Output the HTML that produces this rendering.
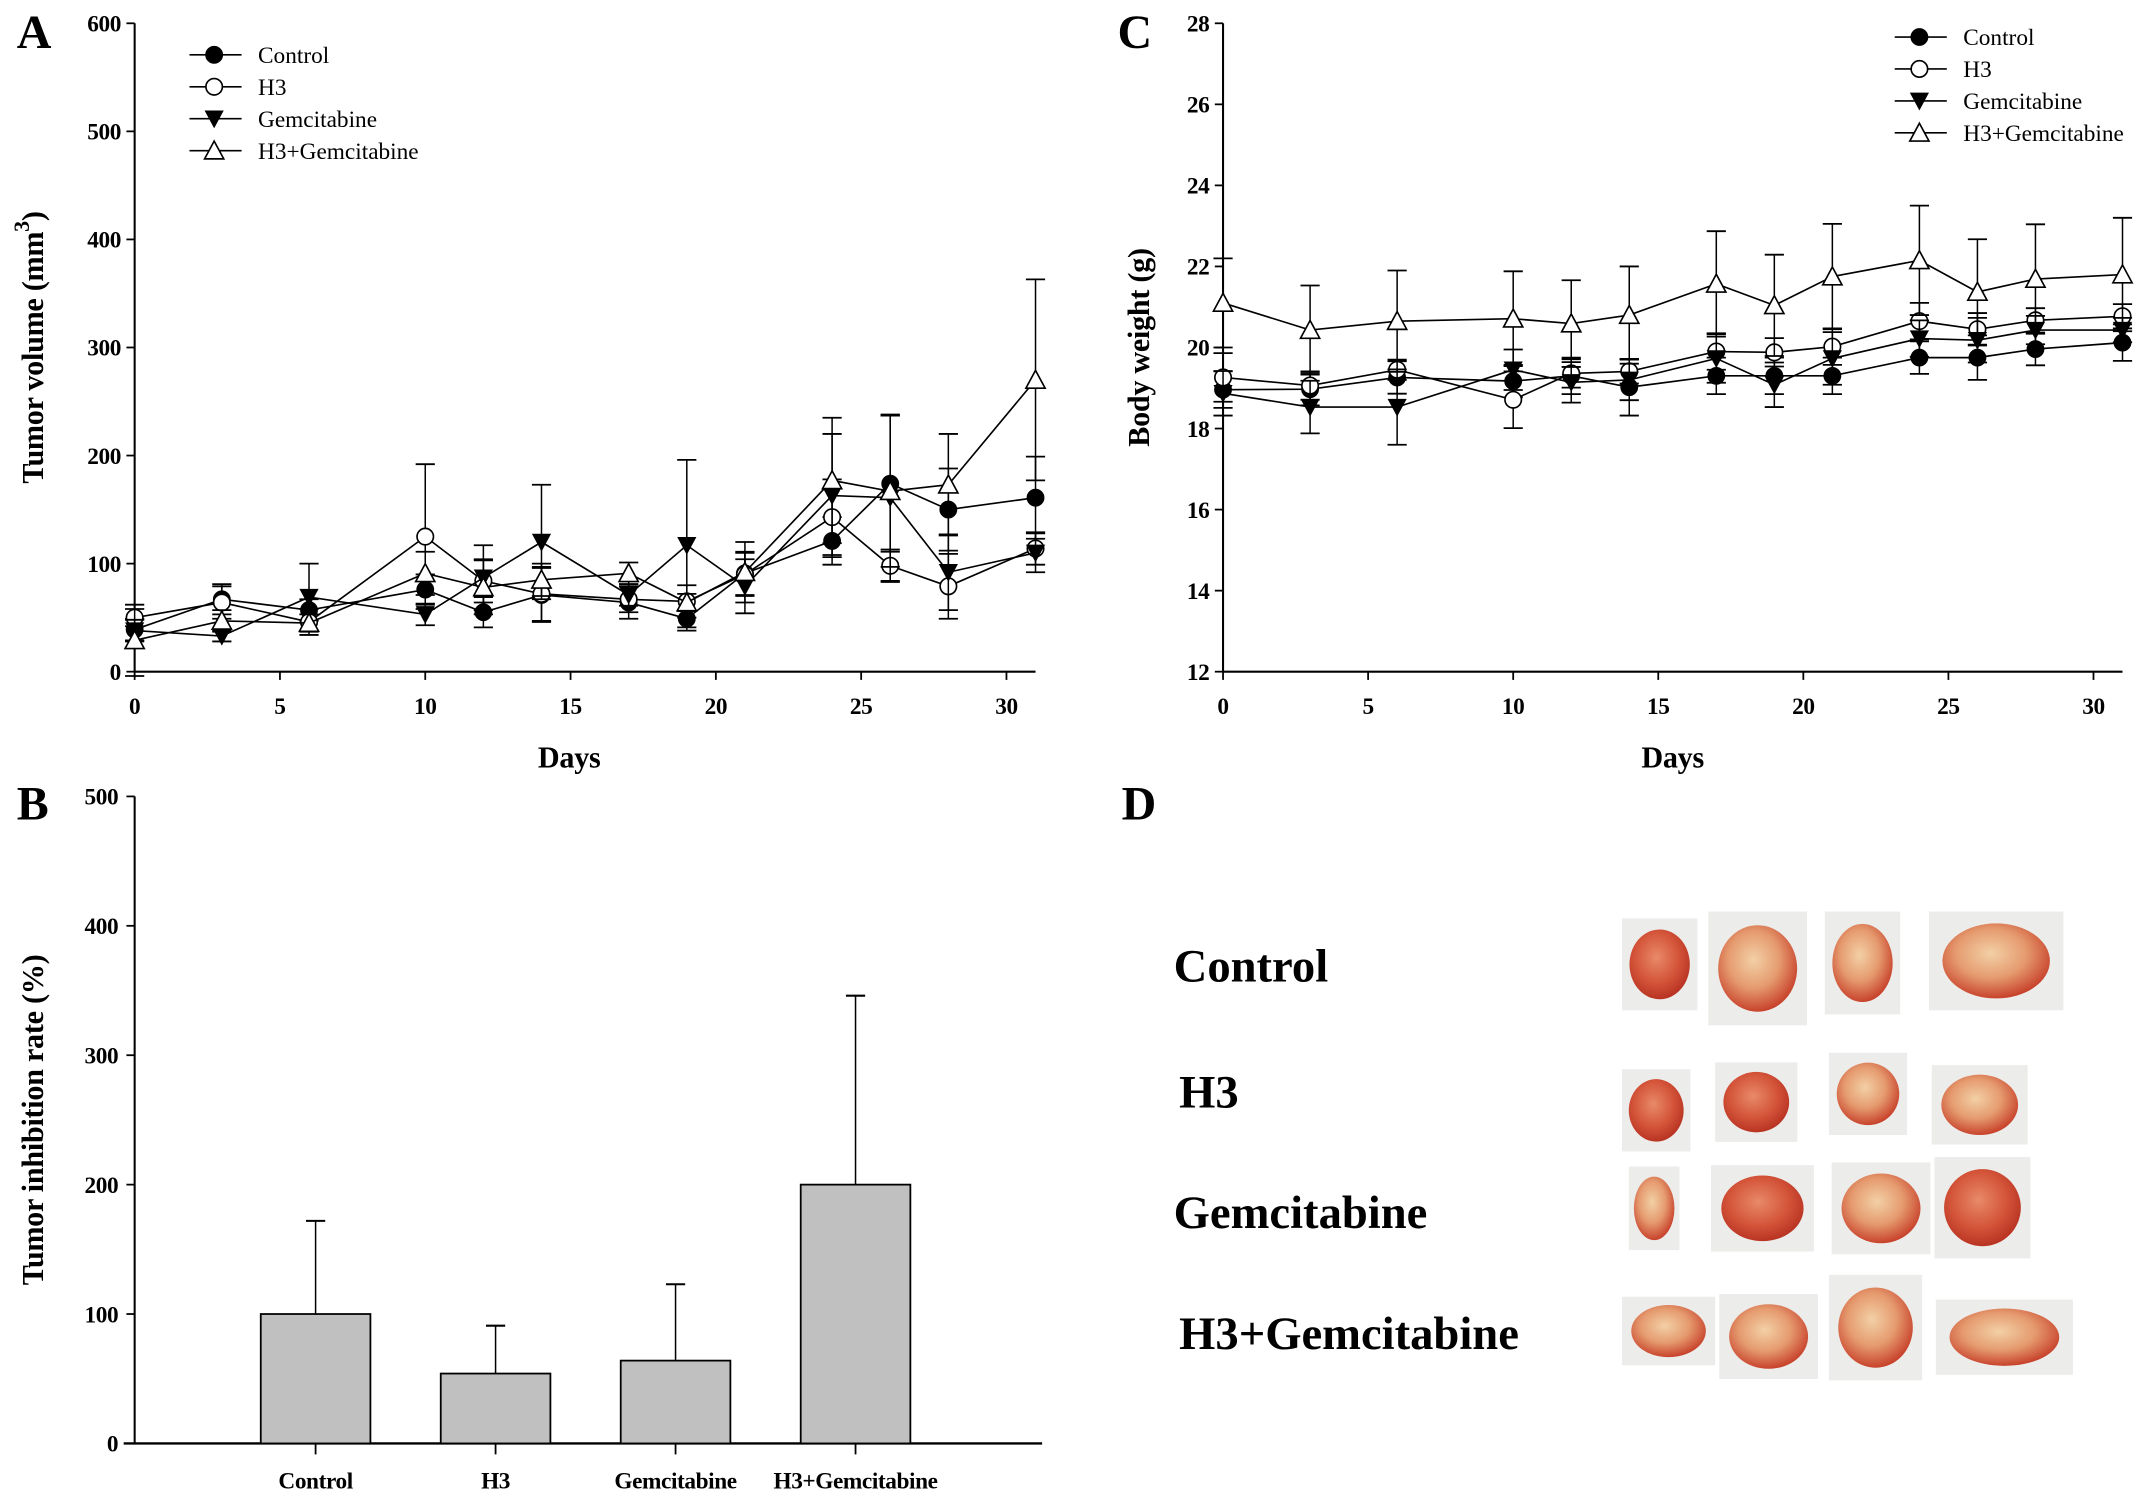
<!DOCTYPE html>
<html><head><meta charset="utf-8"><style>
html,body{margin:0;padding:0;background:#fff}
svg{display:block}
text{font-family:"Liberation Serif",serif;fill:#000}
.tk{font-weight:bold;font-size:17px;letter-spacing:-0.3px}
.ttl{font-weight:bold;font-size:22px;letter-spacing:-0.2px}
.lg{font-size:17px}
.pl{font-weight:bold;font-size:35px}
.dl{font-weight:bold;font-size:34px}
</style></head><body>
<svg id="fig" width="2150" height="1501" viewBox="0 0 1568 1095" xmlns="http://www.w3.org/2000/svg">
<defs>
<radialGradient id="tum" cx="45%" cy="40%" r="60%"><stop offset="0" stop-color="#f3d0a6"/><stop offset="0.55" stop-color="#e59a6e"/><stop offset="1" stop-color="#c8432c"/></radialGradient>
<radialGradient id="tumr" cx="45%" cy="40%" r="60%"><stop offset="0" stop-color="#e88a68"/><stop offset="0.6" stop-color="#d4553a"/><stop offset="1" stop-color="#b93423"/></radialGradient>
</defs>
<g id="pA"></g>
<g id="pB"></g>
<g id="pC"></g>
<g id="pD"></g>
</svg>
<script>
// ---- shared data ----
const days = [0,3,6,10,12,14,17,19,21,24,26,28,31];
const seriesNames = ["Control","H3","Gemcitabine","H3+Gemcitabine"];
// Panel A: tumor volume
const volControl = [39,67,57,76,55,71,64,49,91,121,174,150,161];
const volH3 = [50,64,46,125,84,72,67,65,90,143,98,79,114];
const volGem = [38,33,69,53,87,120,71,117,79,163,161,92,110];
const volCombo = [29,47,45,91,78,85,91,64,92,177,167,173,270];
const volErrControl = [10,14,10,14,14,25,15,8,20,22,63,38,38];
const volErrH3 = [8,15,12,67,20,25,12,15,20,35,15,30,15];
const volErrGem = [10,5,31,10,30,53,10,79,25,57,77,35,18];
const volErrCombo = [33,10,8,20,25,15,10,8,28,58,70,47,93];
const volTicksY = [0,100,200,300,400,500,600];
const dayTicks = [0,5,10,15,20,25,30];
// Panel C: body weight
const wtControl = [18.96,18.97,19.26,19.17,19.3,19.02,19.3,19.3,19.3,19.75,19.75,19.96,20.12];
const wtH3 = [19.26,19.06,19.45,18.71,19.36,19.41,19.9,19.88,20.02,20.65,20.45,20.67,20.77];
const wtGem = [18.87,18.53,18.53,19.45,19.14,19.2,19.73,19.08,19.73,20.22,20.18,20.43,20.43];
const wtCombo = [21.1,20.43,20.65,20.71,20.59,20.8,21.57,21.04,21.75,22.15,21.37,21.69,21.8];
const wtErrControl = [0.45,0.4,0.4,0.4,0.45,0.7,0.45,0.45,0.45,0.4,0.55,0.4,0.45];
const wtErrH3 = [0.6,0.35,0.25,0.7,0.35,0.3,0.45,0.35,0.45,0.45,0.4,0.3,0.3];
const wtErrGem = [0.55,0.65,0.93,0.5,0.5,0.5,0.6,0.55,0.65,0.45,0.55,0.35,0.3];
const wtErrCombo = [1.1,1.1,1.25,1.17,1.07,1.2,1.3,1.25,1.3,1.35,1.3,1.35,1.4];
const wtTicksY = [12,14,16,18,20,22,24,26,28];
// Panel B: inhibition rate
const barCats = ["Control","H3","Gemcitabine","H3+Gemcitabine"];
const barVals = [100,54,64,200];
const barErr = [72,37,59,146];
const barTicksY = [0,100,200,300,400,500];
// Panel D
const photoRows = ["Control","H3","Gemcitabine","H3+Gemcitabine"];

const NS="http://www.w3.org/2000/svg";
function mk(parent,tag,attrs,txt){const e=document.createElementNS(NS,tag);for(const k in attrs)e.setAttribute(k,attrs[k]);if(txt!==undefined)e.textContent=txt;parent.appendChild(e);return e;}

function marker(g,kind,x,y){
  let m;
  if(kind===0){m=mk(g,"circle",{cx:x,cy:y,r:6,fill:"#000",stroke:"#000"});}
  else if(kind===1){m=mk(g,"circle",{cx:x,cy:y,r:6,fill:"#fff",stroke:"#000","stroke-width":1.2});}
  else if(kind===2){m=mk(g,"polygon",{points:`${x-7},${y-6} ${x+7},${y-6} ${x},${y+7}`,fill:"#000"});}
  else {m=mk(g,"polygon",{points:`${x-7},${y+6} ${x+7},${y+6} ${x},${y-7}`,fill:"#fff",stroke:"#000","stroke-width":1.2});}
  
  
}

function linePanel(g,o){
  const X=d=>o.x0+(d-0)*(o.x30-o.x0)/30;
  const Y=v=>o.yb-(v-o.ymin)*(o.yb-o.yt)/(o.ymax-o.ymin);
  let ax=mk(g,"line",{x1:o.x0,y1:o.yt,x2:o.x0,y2:o.yb,stroke:"#000","stroke-width":1.5});
  
  ax=mk(g,"line",{x1:o.x0,y1:o.yb,x2:X(31),y2:o.yb,stroke:"#000","stroke-width":1.5});
  
  o.yticks.forEach(t=>{mk(g,"line",{x1:o.x0-6,y1:Y(t),x2:o.x0,y2:Y(t),stroke:"#000","stroke-width":1.3});
    const l=mk(g,"text",{x:o.x0-10,y:Y(t)+6,"text-anchor":"end",class:"tk"},t);
    });
  dayTicks.forEach(t=>{mk(g,"line",{x1:X(t),y1:o.yb,x2:X(t),y2:o.yb+6,stroke:"#000","stroke-width":1.3});
    const l=mk(g,"text",{x:X(t),y:o.yb+31,"text-anchor":"middle",class:"tk"},t);
    });
  let t=mk(g,"text",{x:o.daysX,y:o.yb+70,"text-anchor":"middle",class:"ttl"},"Days");
  
  t=mk(g,"text",{x:0,y:0,"text-anchor":"middle",class:"ttl",transform:`translate(${o.ytx},${(o.yt+o.yb)/2}) rotate(-90)`});
  
  t.innerHTML=o.ytitle;
  t=mk(g,"text",{x:o.letterX,y:o.letterY,class:"pl"},o.letter);
  
  o.series.forEach((s,si)=>{
    const sg=mk(g,"g",{});
    
    
    s.v.forEach((v,i)=>{const x=X(days[i]),e=s.e[i];
      mk(sg,"line",{x1:x,y1:Y(v-e),x2:x,y2:Y(v+e),stroke:"#000","stroke-width":1.1});
      mk(sg,"line",{x1:x-7,y1:Y(v+e),x2:x+7,y2:Y(v+e),stroke:"#000","stroke-width":1.3});
      mk(sg,"line",{x1:x-7,y1:Y(v-e),x2:x+7,y2:Y(v-e),stroke:"#000","stroke-width":1.3});});
    mk(sg,"polyline",{points:s.v.map((v,i)=>X(days[i])+","+Y(v)).join(" "),fill:"none",stroke:"#000","stroke-width":1.2});
    s.v.forEach((v,i)=>marker(sg,si,X(days[i]),Y(v)));
  });
  const lg=mk(g,"g",{});
  seriesNames.forEach((n,i)=>{const y=o.lgY+i*23.3;
    const eg=mk(lg,"g",{});
    mk(eg,"line",{x1:o.lgX,y1:y,x2:o.lgX+38,y2:y,stroke:"#000","stroke-width":1.2});
    marker(eg,i,o.lgX+18,y);
    mk(eg,"text",{x:o.lgX+50,y:y+6,class:"lg"},n);});
}

linePanel(document.getElementById("pA"),{x0:98,x30:734,yb:490,yt:17,ymin:0,ymax:600,yticks:volTicksY,daysX:415,
  ytx:31,ytitle:'Tumor volume (mm<tspan dy="-10" font-size="16">3</tspan><tspan dy="10">)</tspan>',letter:"A",letterX:12,letterY:35,
  lgX:138,lgY:40,series:[{v:volControl,e:volErrControl},{v:volH3,e:volErrH3},{v:volGem,e:volErrGem},{v:volCombo,e:volErrCombo}]});
linePanel(document.getElementById("pC"),{x0:892,x30:1527,yb:490,yt:17,ymin:12,ymax:28,yticks:wtTicksY,daysX:1220,
  ytx:838,ytitle:'Body weight (g)',letter:"C",letterX:815,letterY:35,
  lgX:1382,lgY:27,series:[{v:wtControl,e:wtErrControl},{v:wtH3,e:wtErrH3},{v:wtGem,e:wtErrGem},{v:wtCombo,e:wtErrCombo}]});

(function(){
  const g=document.getElementById("pB");
  const x0=98,xe=760,yb=1053,yt=581;
  const Y=v=>yb-v*(yb-yt)/500;
  const X=i=>230+i*131.3;
  let a=mk(g,"line",{x1:x0,y1:yt,x2:x0,y2:yb,stroke:"#000","stroke-width":1.5});
  
  a=mk(g,"line",{x1:x0-8,y1:yb,x2:xe,y2:yb,stroke:"#000","stroke-width":1.8});
  
  barTicksY.forEach(t=>{mk(g,"line",{x1:x0-6,y1:Y(t),x2:x0,y2:Y(t),stroke:"#000","stroke-width":1.3});
    const l=mk(g,"text",{x:x0-12,y:Y(t)+6,"text-anchor":"end",class:"tk"},t);
    });
  barCats.forEach((c,i)=>{const x=X(i);
    const b=mk(g,"rect",{x:x-40,y:Y(barVals[i]),width:80,height:Y(0)-Y(barVals[i]),fill:"#c0c0c0",stroke:"#000","stroke-width":1.3});
    
    const e=mk(g,"line",{x1:x,y1:Y(barVals[i]),x2:x,y2:Y(barVals[i]+barErr[i]),stroke:"#000","stroke-width":1.1});
    
    mk(g,"line",{x1:x-7,y1:Y(barVals[i]+barErr[i]),x2:x+7,y2:Y(barVals[i]+barErr[i]),stroke:"#000","stroke-width":1.5});
    mk(g,"line",{x1:x,y1:yb,x2:x,y2:yb+8,stroke:"#000","stroke-width":1.3});
    const l=mk(g,"text",{x:x,y:1086,"text-anchor":"middle",class:"tk"},c);
    });
  let t=mk(g,"text",{x:0,y:0,"text-anchor":"middle",class:"ttl",transform:`translate(31,${(yt+yb)/2}) rotate(-90)`},"Tumor inhibition rate (%)");
  
  t=mk(g,"text",{x:12,y:598,class:"pl"},"B");
  
})();

(function(){
  const g=document.getElementById("pD");
  let t=mk(g,"text",{x:818,y:598,class:"pl"},"D");
  
  const labY=[716,808,896,984],labX=[856,860,856,860];
  const photos=[[[1183,670,55,67,1],[1246,665,72,83,0],[1331,665,55,75,0],[1407,665,98,72,0]],
    [[1183,780,50,60,1],[1251,775,60,58,1],[1334,768,57,60,0],[1409,777,70,58,0]],
    [[1188,851,37,61,0],[1248,850,75,63,1],[1336,848,72,67,0],[1411,844,70,74,1]],
    [[1183,946,68,50,0],[1254,944,72,62,0],[1334,930,68,77,0],[1412,948,100,55,0]]];
  photoRows.forEach((n,r)=>{
    const l=mk(g,"text",{x:labX[r],y:labY[r],class:"dl"},n);
    
    photos[r].forEach(p=>{
      const pg=mk(g,"g",{});
      mk(pg,"rect",{x:p[0],y:p[1],width:p[2],height:p[3],fill:"#ececea"});
      mk(pg,"ellipse",{cx:p[0]+p[2]/2,cy:p[1]+p[3]/2,rx:p[2]*0.4,ry:p[3]*0.38,fill:p[4]?"url(#tumr)":"url(#tum)"});
    });
  });
})();
</script>
</body></html>
